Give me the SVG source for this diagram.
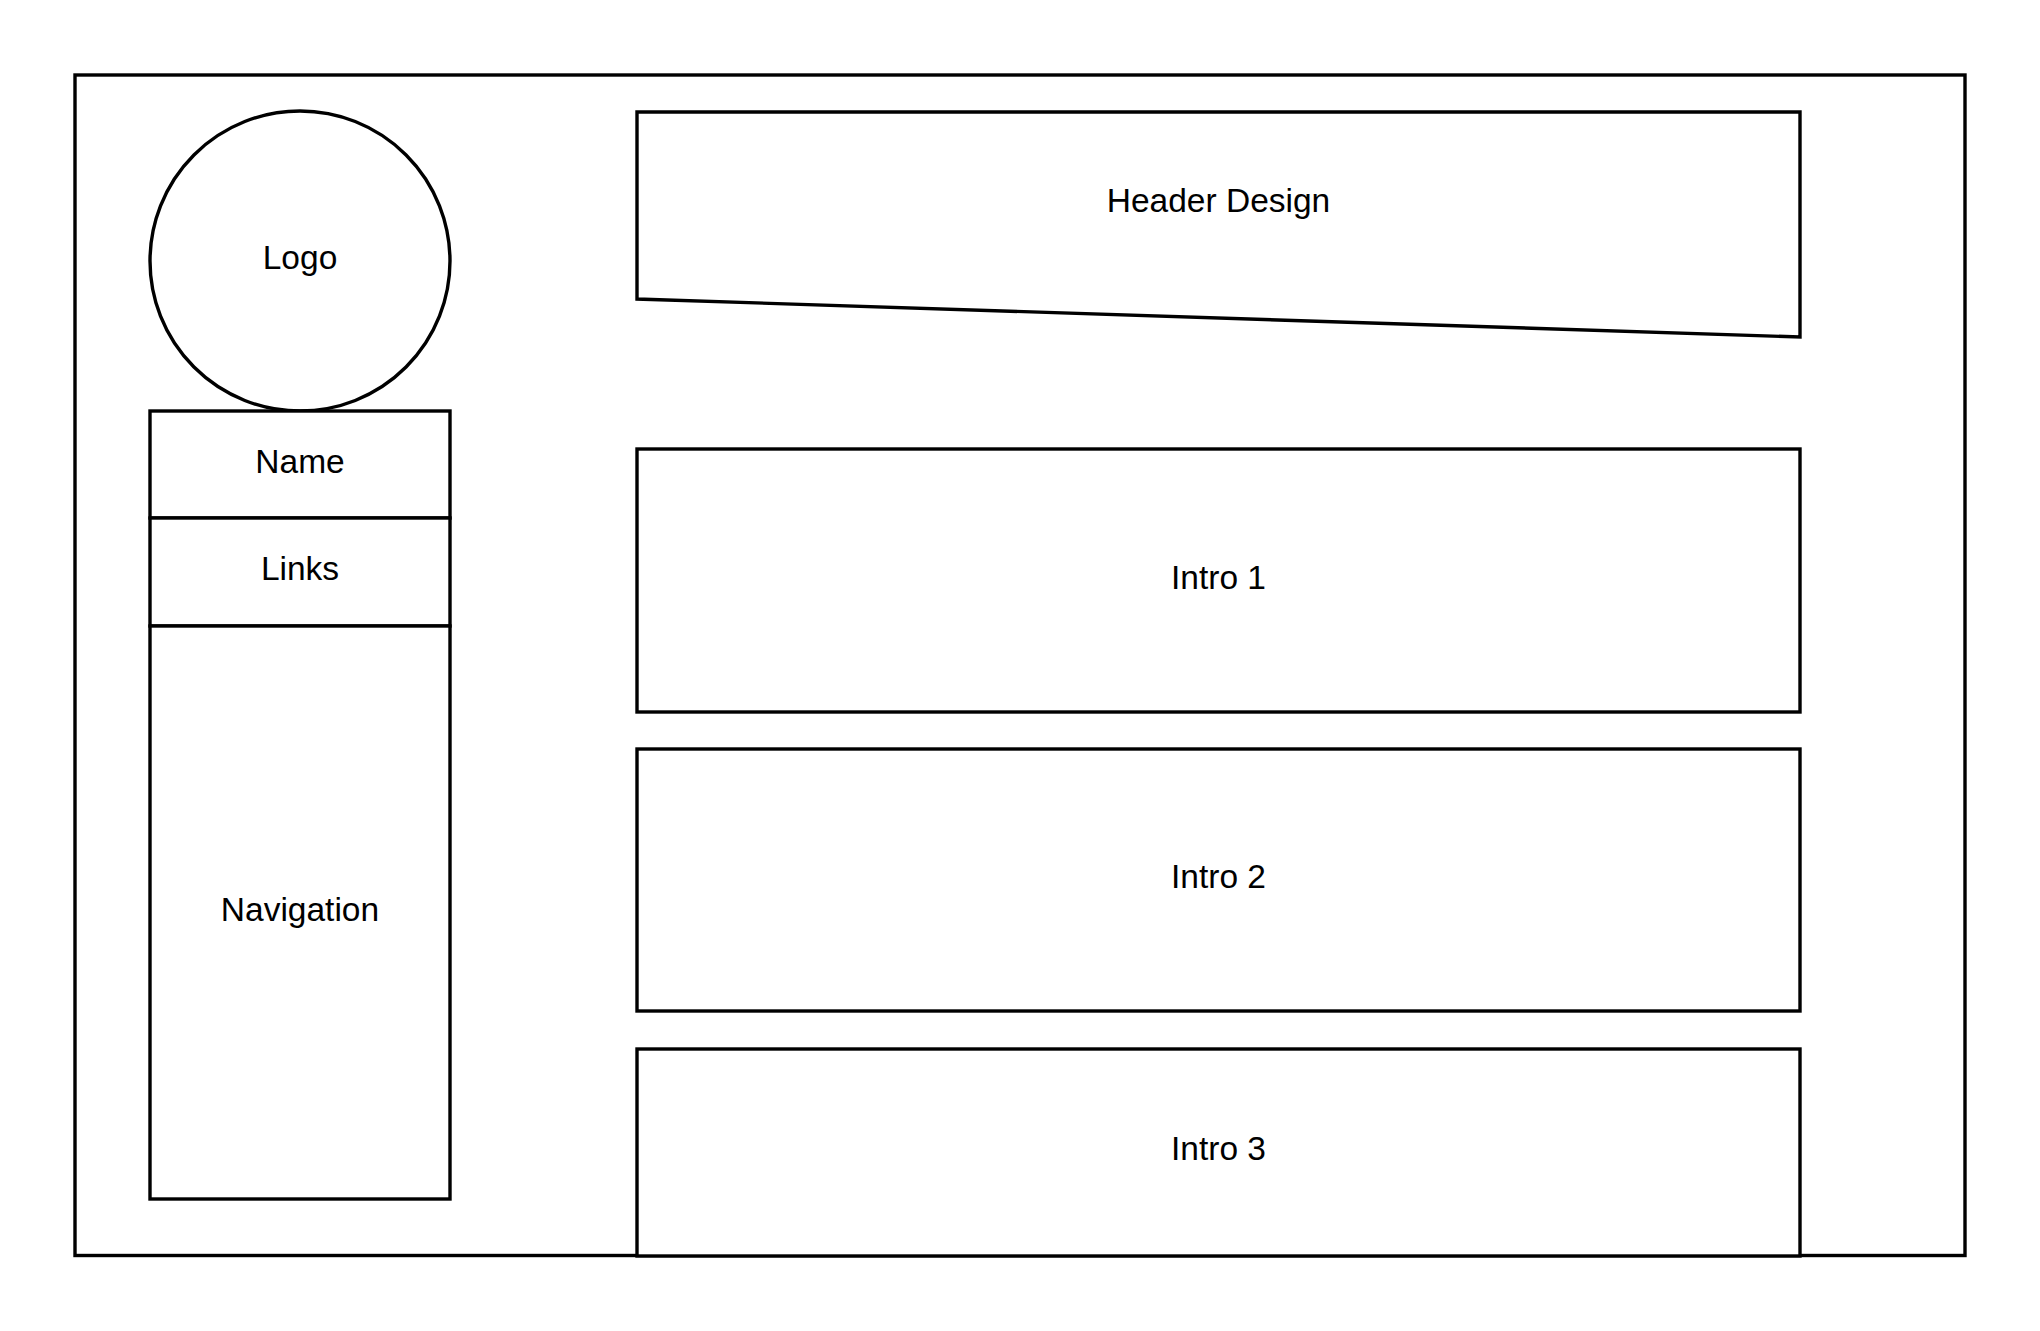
<svg xmlns="http://www.w3.org/2000/svg" width="2040" height="1331" viewBox="0 0 2040 1331">
<style>
.s{fill:#ffffff;stroke:#000000;stroke-width:3.4}
.t{font-family:"Liberation Sans",Arial,sans-serif;font-size:33.5px;fill:#000000;text-anchor:middle}
</style>
<rect x="0" y="0" width="2040" height="1331" fill="#ffffff"/>
<g id="page"><rect class="s" x="75" y="75" width="1890" height="1180.5"/></g>
<g id="logo"><circle class="s" cx="300" cy="261" r="150"/><text class="t" x="300" y="269">Logo</text></g>
<g id="name"><rect class="s" x="150" y="411" width="300" height="107"/><text class="t" x="300" y="472.5">Name</text></g>
<g id="links"><rect class="s" x="150" y="518" width="300" height="108"/><text class="t" x="300" y="580">Links</text></g>
<g id="navigation"><rect class="s" x="150" y="626" width="300" height="573"/><text class="t" x="300" y="920.5">Navigation</text></g>
<g id="header"><polygon class="s" points="637,112 1800,112 1800,337 637,299"/><text class="t" x="1218.5" y="212">Header Design</text></g>
<g id="intro1"><rect class="s" x="637" y="449" width="1163" height="263"/><text class="t" x="1218.5" y="588.5">Intro 1</text></g>
<g id="intro2"><rect class="s" x="637" y="749" width="1163" height="262"/><text class="t" x="1218.5" y="888">Intro 2</text></g>
<g id="intro3"><rect class="s" x="637" y="1049" width="1163" height="207"/><text class="t" x="1218.5" y="1160">Intro 3</text></g>
<g id="connectors"></g>
</svg>
